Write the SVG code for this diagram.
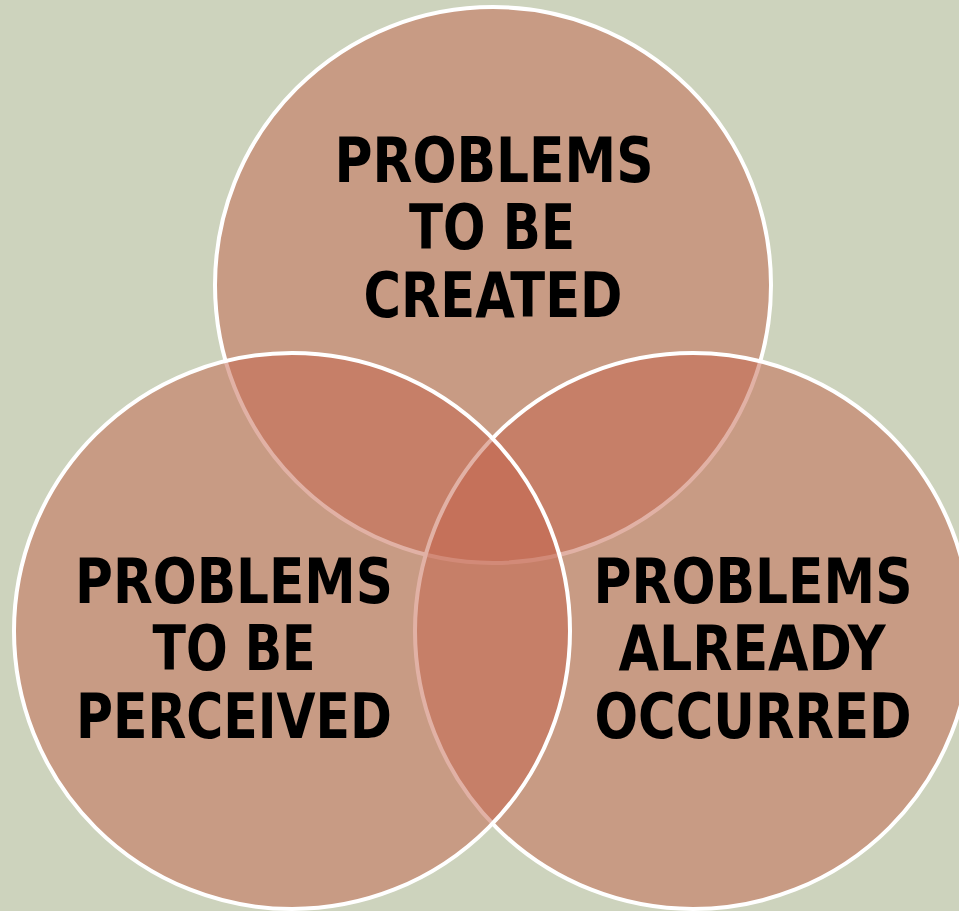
<svg xmlns="http://www.w3.org/2000/svg" width="959" height="911" viewBox="0 0 959 911">
<style>
.c{fill:#C4634B;fill-opacity:0.5;stroke:#FFFFFF;stroke-width:4}
.t{font-family:"DejaVu Sans Condensed","DejaVu Sans",sans-serif;font-weight:bold;font-size:63px;fill:#000;text-anchor:middle}
</style>
<rect x="0" y="0" width="959" height="911" fill="#CDD3BD"/>
<g id="top">
<circle class="c" cx="493" cy="285" r="278"/>
</g>
<g id="right">
<circle class="c" cx="693" cy="631" r="278"/>
</g>
<g id="left">
<circle class="c" cx="292" cy="631" r="278"/>
</g>
<g id="connectors"></g>
<g id="labels-top">
<text class="t" x="494" y="182" textLength="319" lengthAdjust="spacingAndGlyphs">PROBLEMS</text>
<text class="t" x="492" y="249" textLength="166" lengthAdjust="spacingAndGlyphs">TO BE</text>
<text class="t" x="493" y="317" textLength="259" lengthAdjust="spacingAndGlyphs">CREATED</text>
</g>
<g id="labels-left">
<text class="t" x="234" y="603" textLength="318" lengthAdjust="spacingAndGlyphs">PROBLEMS</text>
<text class="t" x="234" y="670" textLength="163" lengthAdjust="spacingAndGlyphs">TO BE</text>
<text class="t" x="234" y="738" textLength="316" lengthAdjust="spacingAndGlyphs">PERCEIVED</text>
</g>
<g id="labels-right">
<text class="t" x="753" y="603" textLength="319" lengthAdjust="spacingAndGlyphs">PROBLEMS</text>
<text class="t" x="752" y="670" textLength="267" lengthAdjust="spacingAndGlyphs">ALREADY</text>
<text class="t" x="753" y="738" textLength="317" lengthAdjust="spacingAndGlyphs">OCCURRED</text>
</g>
</svg>
